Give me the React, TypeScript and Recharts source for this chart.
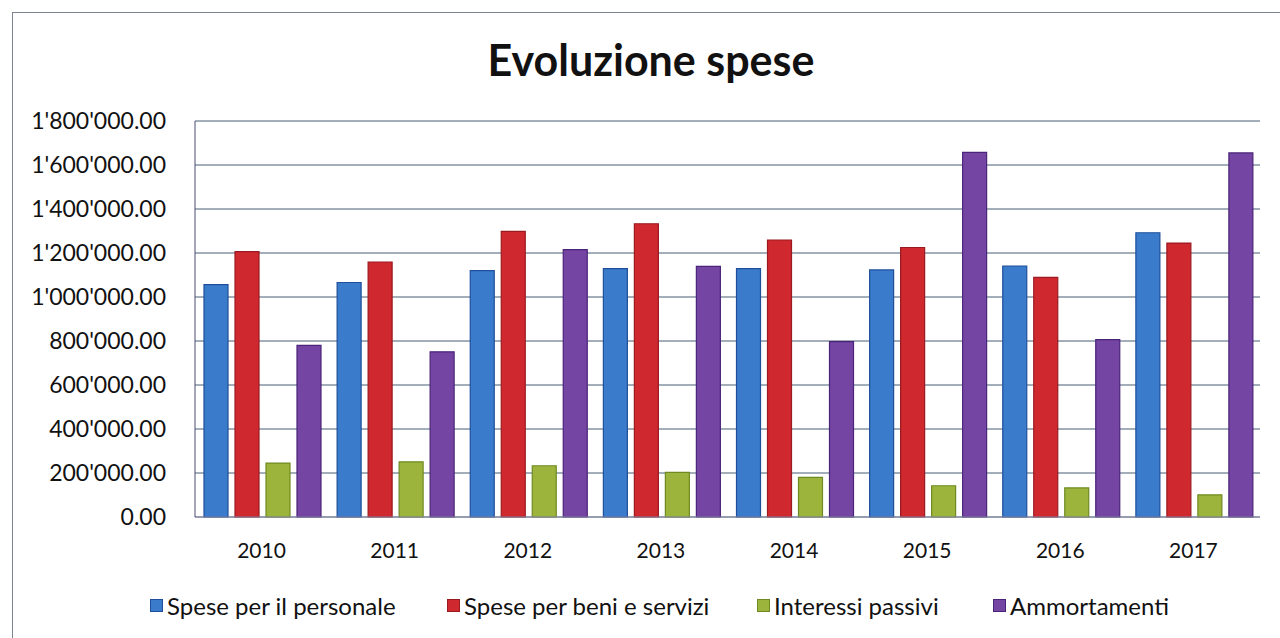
import { BarChart, Bar, XAxis, YAxis, CartesianGrid } from "recharts";

const ANNI = ["2010", "2011", "2012", "2013", "2014", "2015", "2016", "2017"];

const personale = [1056000, 1066000, 1120000, 1129000, 1129000, 1123000, 1141000, 1292000];
const beniServizi = [1206000, 1159000, 1298000, 1333000, 1259000, 1225000, 1089000, 1245000];
const interessi = [245000, 251000, 233000, 203000, 180000, 142000, 132000, 101000];
const ammortamenti = [780000, 751000, 1215000, 1139000, 797000, 1657000, 806000, 1655000];

const Y_TICKS = [0, 200000, 400000, 600000, 800000, 1000000, 1200000, 1400000, 1600000, 1800000];

const SERIES = [
  { key: "personale", name: "Spese per il personale", fill: "#3a7bcc", stroke: "#1f4f9a", lx: 150 },
  { key: "beni", name: "Spese per beni e servizi", fill: "#d0282f", stroke: "#9a1a20", lx: 447 },
  { key: "interessi", name: "Interessi passivi", fill: "#9cb43c", stroke: "#6f8a22", lx: 757 },
  { key: "ammortamenti", name: "Ammortamenti", fill: "#7445a2", stroke: "#4a2478", lx: 993 },
];

const data = ANNI.map((anno, i) => ({
  anno,
  personale: personale[i],
  beni: beniServizi[i],
  interessi: interessi[i],
  ammortamenti: ammortamenti[i],
}));

const FONT = "Lato, 'Open Sans', sans-serif";

// 1'800'000.00
const formatCHF = (v: number) => {
  const parts = v.toFixed(2).split(".");
  return parts[0].replace(/\B(?=(\d{3})+(?!\d))/g, "'") + "." + parts[1];
};

export default function App() {
  return (
    <div style={{ position: "absolute", left: 0, top: 0, width: 1280, height: 638, background: "#fff", overflow: "hidden" }}>
      {/* cornice del grafico */}
      <div
        style={{
          position: "absolute",
          left: 12,
          top: 12,
          width: 1290,
          height: 650,
          border: "1.5px solid #7c8494",
        }}
      />
      <div
        style={{
          position: "absolute",
          top: 34,
          left: 0,
          width: 1302,
          textAlign: "center",
          fontFamily: FONT,
          fontWeight: 700,
          fontSize: 43,
          color: "#111",
        }}
      >
        Evoluzione spese
      </div>
      <BarChart
        width={1280}
        height={638}
        data={data}
        margin={{ top: 121, right: 20, left: 0, bottom: 91 }}
        barGap={7}
        barCategoryGap={9}
        style={{ position: "absolute", left: 0, top: 0 }}
      >
        <CartesianGrid vertical={false} stroke="#8593a3" strokeWidth={1.3} />
        <XAxis
          dataKey="anno"
          tickLine={false}
          axisLine={{ stroke: "#8a8aa8" }}
          tickMargin={20}
          tick={{ fill: "#111", fontSize: 21, fontFamily: FONT }}
        />
        <YAxis
          width={195}
          domain={[0, 1800000]}
          ticks={Y_TICKS}
          interval={0}
          tickFormatter={formatCHF}
          tickLine={false}
          axisLine={{ stroke: "#4a4a78" }}
          tickMargin={23}
          tick={{ fill: "#111", fontSize: 23, fontFamily: FONT }}
        />
        {SERIES.map((s) => (
          <Bar
            key={s.key}
            dataKey={s.key}
            name={s.name}
            fill={s.fill}
            stroke={s.stroke}
            strokeWidth={1.2}
            isAnimationActive={false}
          />
        ))}
      </BarChart>
      {/* legenda */}
      {SERIES.map((s) => (
        <div
          key={s.key}
          style={{
            position: "absolute",
            left: s.lx,
            top: 591,
            display: "flex",
            alignItems: "center",
            fontFamily: FONT,
            fontSize: 24,
            color: "#111",
            whiteSpace: "nowrap",
          }}
        >
          <span
            style={{
              display: "inline-block",
              width: 11,
              height: 11,
              background: s.fill,
              border: `1px solid ${s.stroke}`,
              marginRight: 4,
            }}
          />
          {s.name}
        </div>
      ))}
    </div>
  );
}
